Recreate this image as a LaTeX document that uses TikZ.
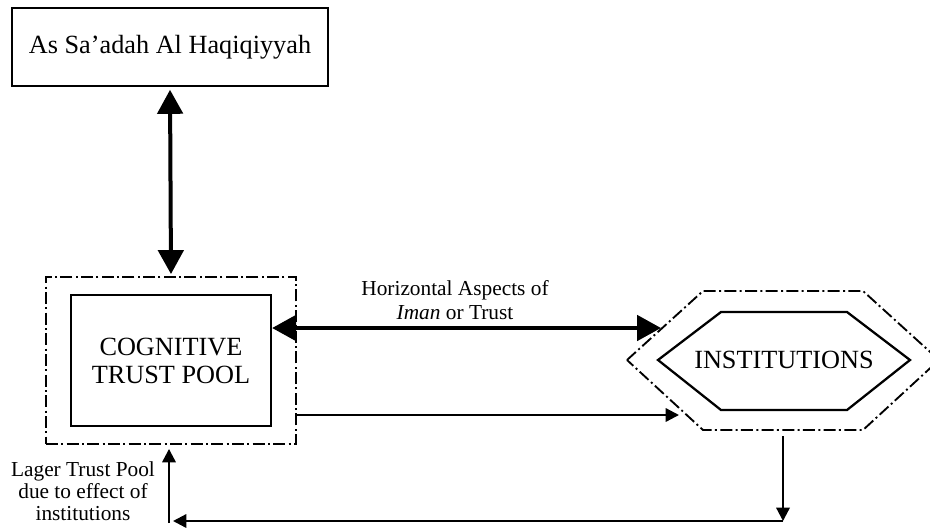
\documentclass[tikz,border=0pt]{standalone}
\usepackage{fontspec}
\setmainfont{Liberation Serif}
\usetikzlibrary{positioning,calc,arrows.meta}

\tikzset{
  plainbox/.style={draw,line width=1.7pt,inner sep=0pt,align=center,font=\fontsize{19.7}{21}\selectfont},
  dashbox/.style={draw,line width=1.4pt,dash pattern=on 9pt off 2.5pt on 1.5pt off 2.5pt,inner sep=0pt},
  bigarrow/.style={line width=3pt,{Triangle[length=18pt,width=19pt]}-{Triangle[length=18pt,width=19pt]}},
  thinarrow/.style={line width=1.7pt,-{Triangle[length=10pt,width=10pt]}},
  smalltext/.style={align=center,inner sep=0pt,font=\fontsize{16}{18}\selectfont}
}

\begin{document}
\begin{tikzpicture}[x=0.75pt,y=-0.75pt]
\useasboundingbox (0,0) rectangle (930,529);
% top box
\node[plainbox,minimum width=237pt,minimum height=58.5pt] (sa) at (170,47) {As Sa'adah Al Haqiqiyyah};
% trust pool
\node[dashbox,minimum width=187.5pt,minimum height=125.25pt] (pool) at (171,360.5) {};
\node[plainbox,minimum width=150pt,minimum height=98.25pt] (cog) at (171,360.5) {COGNITIVE\\TRUST POOL};
% institutions
\node[font=\fontsize{19.7}{21}\selectfont,inner sep=0pt] (inst) at (784,360) {INSTITUTIONS};
\draw[line width=1.7pt,line join=miter] (658,360) -- (721,312) -- (847,312) -- (910,360) -- (847,410) -- (721,410) -- cycle;
\draw[line width=1.4pt,dash pattern=on 9pt off 2.5pt on 1.5pt off 2.5pt] (627,360) -- (703,291) -- (863,291) -- (939,360) -- (863,430) -- (703,430) -- cycle;
\coordinate (hexw) at (661,328);
\coordinate (hexsw) at (679,415);
\coordinate (hexs) at (783,436);
\coordinate (corner) at (783,521);
\coordinate (back) at (169,521);
% arrows
\draw[bigarrow,shorten <=2pt,shorten >=1.5pt] (sa.south) -- (pool.north);
\draw[bigarrow] (cog.east |- hexw) -- (hexw);
\draw[thinarrow] (pool.east |- hexsw) -- (hexsw);
\draw[thinarrow] (hexs) -- (corner);
\draw[thinarrow,shorten >=3pt] (corner) -- (back);
\draw[thinarrow,shorten >=3pt] ($(back)+(0,2)$) -- (back |- pool.south);
% labels
\node[smalltext] (horiz) at (455,300) {Horizontal Aspects of\\\textit{Iman} or Trust};
\node[smalltext,font=\fontsize{16}{16.5}\selectfont] (lager) at (83,491) {Lager Trust Pool\\due to effect of\\institutions};
\end{tikzpicture}
\end{document}
